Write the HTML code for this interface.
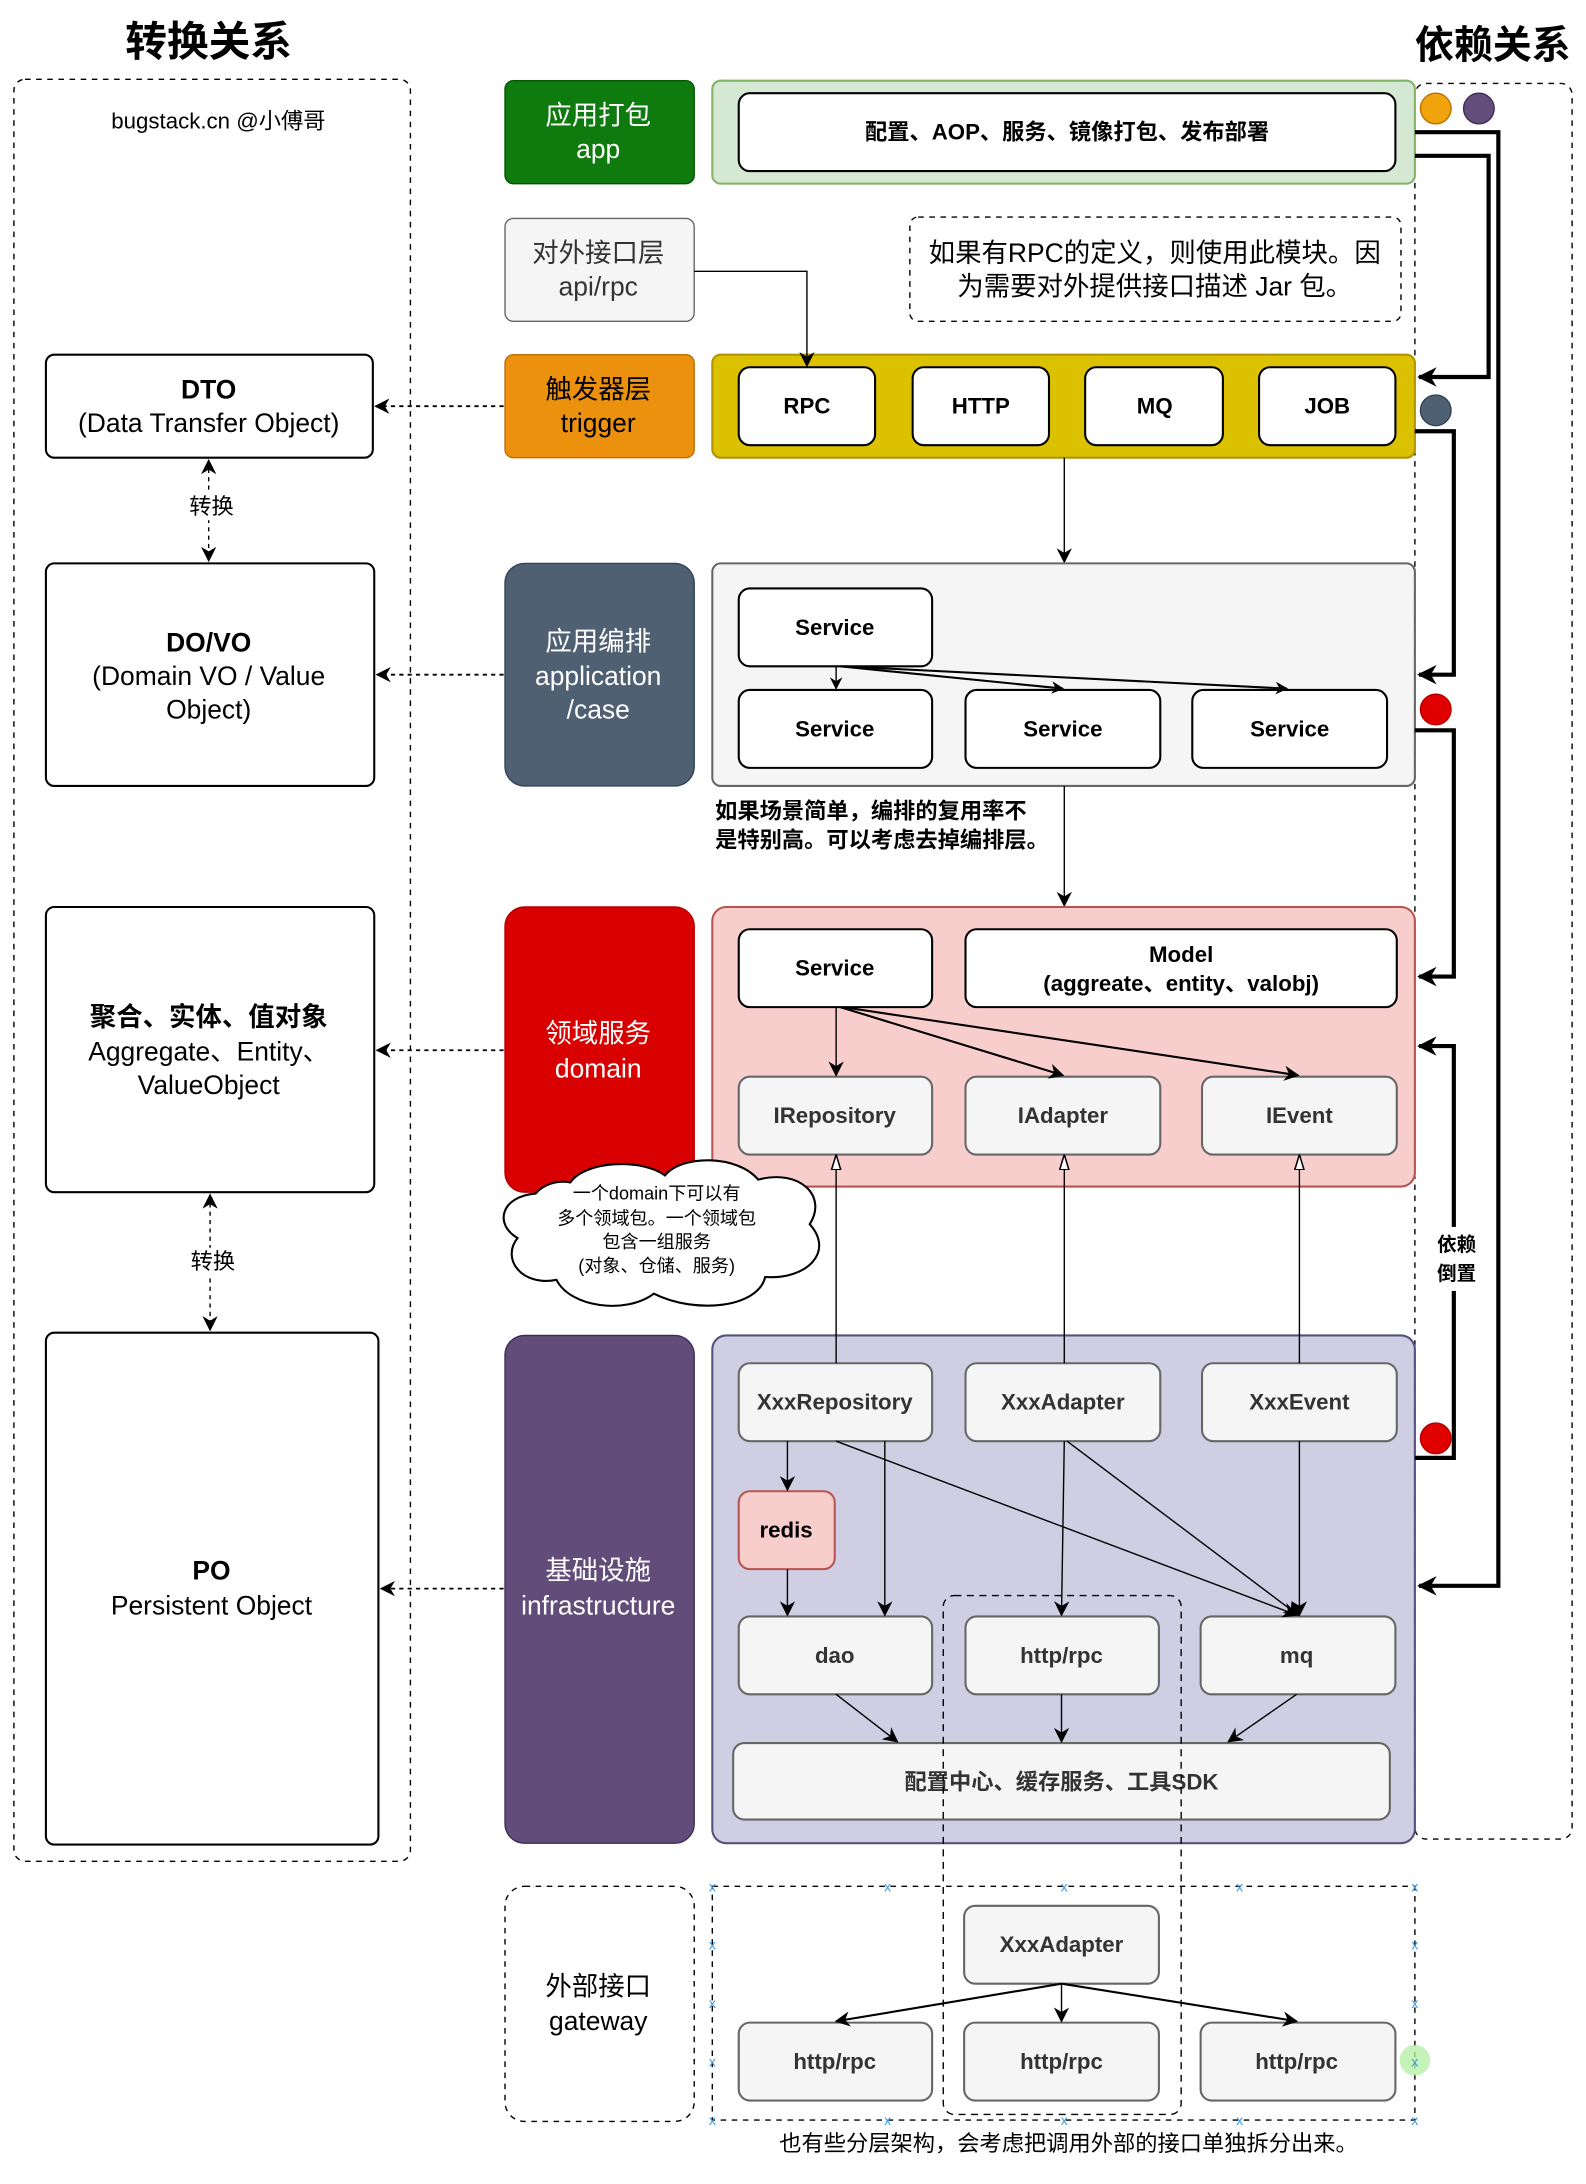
<!DOCTYPE html>
<html><head><meta charset="utf-8"><style>
html,body{margin:0;padding:0;background:#fff;}
svg{display:block;}
text{font-family:"Liberation Sans","Noto Sans CJK SC",sans-serif;}
</style></head><body>
<svg width="1586" height="2184" viewBox="0 0 1140 1570" preserveAspectRatio="none" xmlns="http://www.w3.org/2000/svg">
<defs>
<marker id="a" viewBox="0 0 10 10" refX="9" refY="5" markerWidth="11" markerHeight="11" markerUnits="userSpaceOnUse" orient="auto-start-reverse"><path d="M0,0 L10,5 L0,10 L3,5 z" fill="#000"/></marker>
<marker id="ab" viewBox="0 0 10 10" refX="9" refY="5" markerWidth="9" markerHeight="9" markerUnits="userSpaceOnUse" orient="auto"><path d="M0,0 L10,5 L0,10 L3,5 z" fill="#000"/></marker>
<marker id="at" viewBox="0 0 10 10" refX="9" refY="5" markerWidth="14" markerHeight="14" markerUnits="userSpaceOnUse" orient="auto"><path d="M0,0 L10,5 L0,10 L3,5 z" fill="#000"/></marker>
<marker id="h" viewBox="0 0 10 10" refX="9" refY="5" markerWidth="11" markerHeight="11" markerUnits="userSpaceOnUse" orient="auto"><path d="M0,2 L10,5 L0,8 z" fill="#fff" stroke="#000"/></marker>
</defs>
<g text-anchor="middle" dominant-baseline="central">
<text x="150" y="30" font-size="30" font-weight="bold">转换关系</text>
<text x="1073" y="33" font-size="28" font-weight="bold">依赖关系</text>
<rect x="10" y="57" width="285" height="1281" rx="8" fill="none" stroke="#000" stroke-dasharray="4,4"/>
<text x="157" y="87" font-size="16">bugstack.cn @小傅哥</text>
<rect x="33" y="255" width="235" height="74" rx="6" fill="#fff" stroke="#000" stroke-width="1.5"/>
<text x="150" y="280" font-size="19" font-weight="bold">DTO</text>
<text x="150" y="304" font-size="19">(Data Transfer Object)</text>
<rect x="33" y="405" width="236" height="160" rx="6" fill="#fff" stroke="#000" stroke-width="1.5"/>
<text x="150" y="462" font-size="19" font-weight="bold">DO/VO</text>
<text x="150" y="486" font-size="19">(Domain VO / Value</text>
<text x="150" y="510" font-size="19">Object)</text>
<rect x="33" y="652" width="236" height="205" rx="6" fill="#fff" stroke="#000" stroke-width="1.5"/>
<text x="150" y="731" font-size="19" font-weight="bold">聚合、实体、值对象</text>
<text x="150" y="756" font-size="19">Aggregate、Entity、</text>
<text x="150" y="780" font-size="19">ValueObject</text>
<rect x="33" y="958" width="239" height="368" rx="6" fill="#fff" stroke="#000" stroke-width="1.5"/>
<text x="152" y="1129" font-size="19" font-weight="bold">PO</text>
<text x="152" y="1154" font-size="19">Persistent Object</text>
<line x1="150" y1="331" x2="150" y2="403" stroke="#000" stroke-dasharray="3,3" marker-start="url(#a)" marker-end="url(#a)"/>
<rect x="134" y="354" width="34" height="20" fill="#fff"/>
<text x="152" y="364" font-size="16">转换</text>
<line x1="151" y1="859" x2="151" y2="956" stroke="#000" stroke-dasharray="3,3" marker-start="url(#a)" marker-end="url(#a)"/>
<rect x="134" y="897" width="36" height="20" fill="#fff"/>
<text x="153" y="907" font-size="16">转换</text>

<rect x="363" y="58" width="136" height="74" rx="6" fill="#0f7b0f" stroke="#005700"/>
<text x="430" y="83" font-size="19" fill="#fff">应用打包</text>
<text x="430" y="107" font-size="19" fill="#fff">app</text>
<rect x="363" y="157" width="136" height="74" rx="6" fill="#f5f5f5" stroke="#666"/>
<text x="430" y="182" font-size="19" fill="#333">对外接口层</text>
<text x="430" y="206" font-size="19" fill="#333">api/rpc</text>
<rect x="363" y="255" width="136" height="74" rx="6" fill="#eb910e" stroke="#bd6f0a"/>
<text x="430" y="280" font-size="19" fill="#000">触发器层</text>
<text x="430" y="304" font-size="19" fill="#000">trigger</text>
<rect x="363" y="405" width="136" height="160" rx="14" fill="#4f6072" stroke="#314354"/>
<text x="430" y="461" font-size="19" fill="#fff">应用编排</text>
<text x="430" y="486" font-size="19" fill="#fff">application</text>
<text x="430" y="510" font-size="19" fill="#fff">/case</text>
<rect x="363" y="652" width="136" height="205" rx="14" fill="#d80000" stroke="#b20000"/>
<text x="430" y="743" font-size="19" fill="#fff">领域服务</text>
<text x="430" y="768" font-size="19" fill="#fff">domain</text>
<rect x="363" y="960" width="136" height="365" rx="14" fill="#624c79" stroke="#3f2d52"/>
<text x="430" y="1129" font-size="19" fill="#fff">基础设施</text>
<text x="430" y="1154" font-size="19" fill="#fff">infrastructure</text>
<rect x="363" y="1356" width="136" height="169" rx="14" fill="none" stroke="#000" stroke-dasharray="4,4"/>
<text x="430" y="1428" font-size="19">外部接口</text>
<text x="430" y="1453" font-size="19">gateway</text>

<line x1="362" y1="292" x2="270" y2="292" stroke="#000" stroke-width="1.3" stroke-dasharray="3,3" marker-end="url(#a)"/>
<line x1="362" y1="485" x2="271" y2="485" stroke="#000" stroke-width="1.3" stroke-dasharray="3,3" marker-end="url(#a)"/>
<line x1="362" y1="755" x2="271" y2="755" stroke="#000" stroke-width="1.3" stroke-dasharray="3,3" marker-end="url(#a)"/>
<line x1="362" y1="1142" x2="274" y2="1142" stroke="#000" stroke-width="1.3" stroke-dasharray="3,3" marker-end="url(#a)"/>

<rect x="1017" y="60" width="113" height="1262" rx="8" fill="none" stroke="#000" stroke-dasharray="4,4"/>

<rect x="512" y="58" width="505" height="74" rx="6" fill="#d5e8d4" stroke="#82b366" stroke-width="1.5"/>
<rect x="531" y="67" width="472" height="56" rx="8" fill="#fff" stroke="#000" stroke-width="1.5"/>
<text x="767" y="95" font-size="16" font-weight="bold">配置、AOP、服务、镜像打包、发布部署</text>
<rect x="654" y="156" width="353" height="75" rx="6" fill="none" stroke="#000" stroke-dasharray="4,4"/>
<text x="830" y="182" font-size="19">如果有RPC的定义，则使用此模块。因</text>
<text x="830" y="206" font-size="19">为需要对外提供接口描述 Jar 包。</text>

<rect x="512" y="255" width="505" height="74" rx="6" fill="#dbc100" stroke="#b09500" stroke-width="1.5"/>
<rect x="531" y="264" width="98" height="56" rx="8" fill="#fff" stroke="#000" stroke-width="1.5"/>
<rect x="656" y="264" width="98" height="56" rx="8" fill="#fff" stroke="#000" stroke-width="1.5"/>
<rect x="780" y="264" width="99" height="56" rx="8" fill="#fff" stroke="#000" stroke-width="1.5"/>
<rect x="905" y="264" width="98" height="56" rx="8" fill="#fff" stroke="#000" stroke-width="1.5"/>
<text x="580" y="292" font-size="16" font-weight="bold">RPC</text>
<text x="705" y="292" font-size="16" font-weight="bold">HTTP</text>
<text x="830" y="292" font-size="16" font-weight="bold">MQ</text>
<text x="954" y="292" font-size="16" font-weight="bold">JOB</text>
<polyline points="499,195 580,195 580,263" fill="none" stroke="#000" marker-end="url(#a)"/>
<line x1="765" y1="329" x2="765" y2="404" stroke="#000" marker-end="url(#a)"/>

<rect x="512" y="405" width="505" height="160" rx="6" fill="#f5f5f5" stroke="#666" stroke-width="1.5"/>
<rect x="531" y="423" width="139" height="56" rx="8" fill="#fff" stroke="#000" stroke-width="1.5"/>
<rect x="531" y="496" width="139" height="56" rx="8" fill="#fff" stroke="#000" stroke-width="1.5"/>
<rect x="694" y="496" width="140" height="56" rx="8" fill="#fff" stroke="#000" stroke-width="1.5"/>
<rect x="857" y="496" width="140" height="56" rx="8" fill="#fff" stroke="#000" stroke-width="1.5"/>
<text x="600" y="451" font-size="16" font-weight="bold">Service</text>
<text x="600" y="524" font-size="16" font-weight="bold">Service</text>
<text x="764" y="524" font-size="16" font-weight="bold">Service</text>
<text x="927" y="524" font-size="16" font-weight="bold">Service</text>
<line x1="601" y1="479" x2="601" y2="495" stroke="#000" marker-end="url(#ab)"/>
<line x1="604" y1="479" x2="764" y2="495" stroke="#000" stroke-width="1.5" marker-end="url(#ab)"/>
<line x1="606" y1="479" x2="925" y2="495" stroke="#000" stroke-width="1.5" marker-end="url(#ab)"/>
<g text-anchor="start"><text x="514" y="583" font-size="16" font-weight="bold">如果场景简单，编排的复用率不</text>
<text x="514" y="604" font-size="16" font-weight="bold">是特别高。可以考虑去掉编排层。</text></g>
<line x1="765" y1="565" x2="765" y2="651" stroke="#000" marker-end="url(#a)"/>

<rect x="512" y="652" width="505" height="201" rx="10" fill="#f8cecc" stroke="#b85450" stroke-width="1.5"/>
<rect x="531" y="668" width="139" height="56" rx="8" fill="#fff" stroke="#000" stroke-width="1.5"/>
<rect x="694" y="668" width="310" height="56" rx="8" fill="#fff" stroke="#000" stroke-width="1.5"/>
<text x="600" y="696" font-size="16" font-weight="bold">Service</text>
<text x="849" y="686" font-size="16" font-weight="bold">Model</text>
<text x="849" y="707" font-size="16" font-weight="bold">(aggreate、entity、valobj)</text>
<rect x="531" y="774" width="139" height="56" rx="8" fill="#f5f5f5" stroke="#666" stroke-width="1.5"/>
<rect x="694" y="774" width="140" height="56" rx="8" fill="#f5f5f5" stroke="#666" stroke-width="1.5"/>
<rect x="864" y="774" width="140" height="56" rx="8" fill="#f5f5f5" stroke="#666" stroke-width="1.5"/>
<text x="600" y="802" font-size="16" font-weight="bold" fill="#333">IRepository</text>
<text x="764" y="802" font-size="16" font-weight="bold" fill="#333">IAdapter</text>
<text x="934" y="802" font-size="16" font-weight="bold" fill="#333">IEvent</text>
<line x1="601" y1="724" x2="601" y2="773" stroke="#000" marker-end="url(#a)"/>
<line x1="604" y1="724" x2="764" y2="773" stroke="#000" stroke-width="1.5" marker-end="url(#a)"/>
<line x1="606" y1="724" x2="933" y2="773" stroke="#000" stroke-width="1.5" marker-end="url(#a)"/>

<rect x="512" y="960" width="505" height="365" rx="10" fill="#d0cee2" stroke="#56517e" stroke-width="1.5"/>
<rect x="531" y="980" width="139" height="56" rx="8" fill="#f5f5f5" stroke="#666" stroke-width="1.5"/>
<rect x="694" y="980" width="140" height="56" rx="8" fill="#f5f5f5" stroke="#666" stroke-width="1.5"/>
<rect x="864" y="980" width="140" height="56" rx="8" fill="#f5f5f5" stroke="#666" stroke-width="1.5"/>
<text x="600" y="1008" font-size="16" font-weight="bold" fill="#333">XxxRepository</text>
<text x="764" y="1008" font-size="16" font-weight="bold" fill="#333">XxxAdapter</text>
<text x="934" y="1008" font-size="16" font-weight="bold" fill="#333">XxxEvent</text>
<rect x="531" y="1072" width="69" height="56" rx="8" fill="#f8cecc" stroke="#b85450" stroke-width="1.5"/>
<text x="565" y="1100" font-size="16" font-weight="bold">redis</text>
<rect x="531" y="1162" width="139" height="56" rx="8" fill="#f5f5f5" stroke="#666" stroke-width="1.5"/>
<rect x="694" y="1162" width="139" height="56" rx="8" fill="#f5f5f5" stroke="#666" stroke-width="1.5"/>
<rect x="863" y="1162" width="140" height="56" rx="8" fill="#f5f5f5" stroke="#666" stroke-width="1.5"/>
<text x="600" y="1190" font-size="16" font-weight="bold" fill="#333">dao</text>
<text x="763" y="1190" font-size="16" font-weight="bold" fill="#333">http/rpc</text>
<text x="932" y="1190" font-size="16" font-weight="bold" fill="#333">mq</text>
<rect x="527" y="1253" width="472" height="55" rx="8" fill="#f5f5f5" stroke="#666" stroke-width="1.5"/>
<text x="763" y="1281" font-size="16" font-weight="bold" fill="#333">配置中心、缓存服务、工具SDK</text>
<line x1="601" y1="980" x2="601" y2="831" stroke="#000" marker-end="url(#h)"/>
<line x1="765" y1="980" x2="765" y2="831" stroke="#000" marker-end="url(#h)"/>
<line x1="934" y1="980" x2="934" y2="831" stroke="#000" marker-end="url(#h)"/>
<line x1="566" y1="1036" x2="566" y2="1071" stroke="#000" marker-end="url(#a)"/>
<line x1="636" y1="1036" x2="636" y2="1161" stroke="#000" marker-end="url(#a)"/>
<line x1="601" y1="1036" x2="932" y2="1161" stroke="#000" marker-end="url(#a)"/>
<line x1="566" y1="1128" x2="566" y2="1161" stroke="#000" marker-end="url(#a)"/>
<line x1="765" y1="1036" x2="763" y2="1161" stroke="#000" marker-end="url(#a)"/>
<line x1="767" y1="1036" x2="933" y2="1161" stroke="#000" marker-end="url(#a)"/>
<line x1="934" y1="1036" x2="934" y2="1161" stroke="#000" marker-end="url(#a)"/>
<line x1="601" y1="1218" x2="645" y2="1252" stroke="#000" marker-end="url(#a)"/>
<line x1="763" y1="1218" x2="763" y2="1252" stroke="#000" marker-end="url(#a)"/>
<line x1="932" y1="1218" x2="883" y2="1252" stroke="#000" marker-end="url(#a)"/>

<rect x="512" y="1356" width="505" height="168" fill="none" stroke="#000" stroke-dasharray="4,4"/>
<rect x="693" y="1370" width="140" height="56" rx="8" fill="#f5f5f5" stroke="#666" stroke-width="1.5"/>
<text x="763" y="1398" font-size="16" font-weight="bold" fill="#333">XxxAdapter</text>
<rect x="531" y="1454" width="139" height="56" rx="8" fill="#f5f5f5" stroke="#666" stroke-width="1.5"/>
<rect x="693" y="1454" width="140" height="56" rx="8" fill="#f5f5f5" stroke="#666" stroke-width="1.5"/>
<rect x="863" y="1454" width="140" height="56" rx="8" fill="#f5f5f5" stroke="#666" stroke-width="1.5"/>
<text x="600" y="1482" font-size="16" font-weight="bold" fill="#333">http/rpc</text>
<text x="763" y="1482" font-size="16" font-weight="bold" fill="#333">http/rpc</text>
<text x="932" y="1482" font-size="16" font-weight="bold" fill="#333">http/rpc</text>
<line x1="763" y1="1426" x2="601" y2="1453" stroke="#000" stroke-width="1.5" marker-end="url(#a)"/>
<line x1="763" y1="1426" x2="763" y2="1453" stroke="#000" marker-end="url(#a)"/>
<line x1="763" y1="1426" x2="932" y2="1453" stroke="#000" stroke-width="1.5" marker-end="url(#a)"/>
<circle cx="1017" cy="1481" r="11" fill="#b8f0a8" opacity="0.8"/>
<g fill="#3a9ae0" font-size="10">
<text x="512" y="1356">x</text><text x="638" y="1356">x</text><text x="765" y="1356">x</text><text x="891" y="1356">x</text><text x="1017" y="1356">x</text>
<text x="512" y="1524">x</text><text x="638" y="1524">x</text><text x="765" y="1524">x</text><text x="891" y="1524">x</text><text x="1017" y="1524">x</text>
<text x="512" y="1398">x</text><text x="512" y="1440">x</text><text x="512" y="1482">x</text>
<text x="1017" y="1398">x</text><text x="1017" y="1440">x</text><text x="1017" y="1482">x</text>
</g>
<rect x="678" y="1147" width="171" height="373" rx="8" fill="none" stroke="#000" stroke-dasharray="5,4"/>
<text x="768" y="1541" font-size="16">也有些分层架构，会考虑把调用外部的接口单独拆分出来。</text>

<path d="M385,858 C360,860 355,880 372,890 C360,905 375,925 400,920 C410,940 450,945 470,930 C500,945 545,940 550,918 C580,920 600,900 582,880 C595,860 575,840 545,848 C530,830 490,830 478,845 C460,832 420,835 410,850 C400,848 390,852 385,858 Z" fill="#fff" stroke="#000" stroke-width="1.5"/>
<text x="472" y="858" font-size="13">一个domain下可以有</text>
<text x="472" y="876" font-size="13">多个领域包。一个领域包</text>
<text x="472" y="893" font-size="13">包含一组服务</text>
<text x="472" y="910" font-size="13">(对象、仓储、服务)</text>

<circle cx="1032" cy="78" r="11" fill="#f0a30a" stroke="#bd7000"/>
<circle cx="1063" cy="78" r="11" fill="#634d7a" stroke="#432d57"/>
<circle cx="1032" cy="295" r="11" fill="#4f6072" stroke="#314354"/>
<circle cx="1032" cy="510" r="11" fill="#e00000" stroke="#b20000"/>
<circle cx="1032" cy="1034" r="11" fill="#e00000" stroke="#b20000"/>
<g fill="none" stroke="#000" stroke-width="3">
<polyline points="1017,95 1077,95 1077,1140 1020,1140" marker-end="url(#at)"/>
<polyline points="1017,112 1070,112 1070,271 1020,271" marker-end="url(#at)"/>
<polyline points="1017,310 1045,310 1045,485 1020,485" marker-end="url(#at)"/>
<polyline points="1017,525 1045,525 1045,702 1020,702" marker-end="url(#at)"/>
<polyline points="1017,1048 1045,1048 1045,752 1020,752" marker-end="url(#at)"/>
</g>
<rect x="1030" y="882" width="34" height="46" fill="#fff"/>
<text x="1047" y="895" font-size="14" font-weight="bold">依赖</text>
<text x="1047" y="916" font-size="14" font-weight="bold">倒置</text>
</g>
</svg>
</body></html>
